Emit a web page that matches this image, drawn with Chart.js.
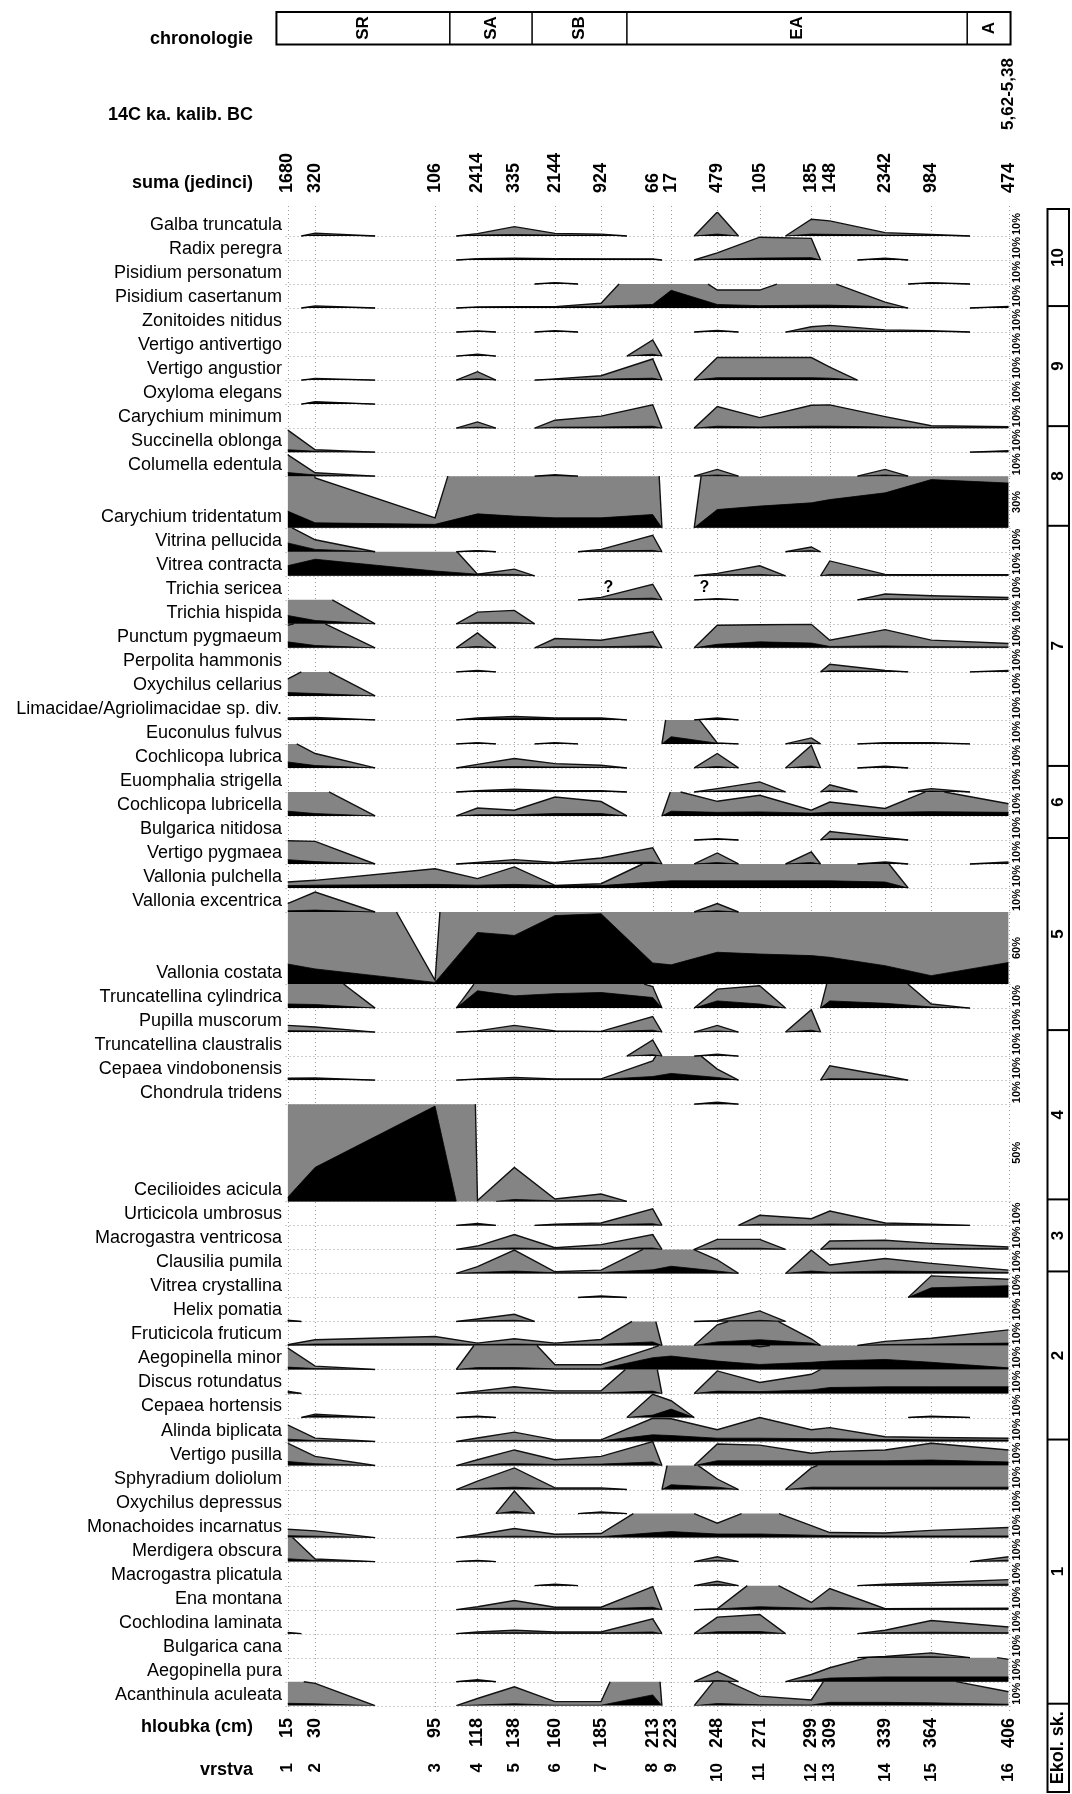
<!DOCTYPE html>
<html lang="cs">
<head>
<meta charset="utf-8">
<title>Malakozoologický diagram</title>
<script src="https://cdn.jsdelivr.net/npm/chart.js@4.4.1/dist/chart.umd.min.js"></script>
<style>
  html, body { margin: 0; padding: 0; background: #fff; }
  #wrap { position: relative; width: 1072px; height: 1794px; }
</style>
</head>
<body>
<div id="wrap"><canvas id="chart"></canvas></div>
<script>
// vzorky: hloubka (cm), vrstva, suma jedinců
const depths = [15, 30, 95, 118, 138, 160, 185, 213, 223, 248, 271, 299, 309, 339, 364, 406];
const layers = ['1', '2', '3', '4', '5', '6', '7', '8', '9', '10', '11', '12', '13', '14', '15', '16'];
const sums = [1680, 320, 106, 2414, 335, 2144, 924, 66, 17, 479, 105, 185, 148, 2342, 984, 474];

// chronologie (hranice v cm) a datování
const chronoLabels = ['SR', 'SA', 'SB', 'EA', 'A'];
const chronoLimits = [9, 103, 147.6, 199, 383.5, 407];
const c14Depths = [406];
const c14Labels = ['5,62-5,38'];

const species = [
  'Galba truncatula', 'Radix peregra', 'Pisidium personatum', 'Pisidium casertanum',
  'Zonitoides nitidus', 'Vertigo antivertigo', 'Vertigo angustior', 'Oxyloma elegans', 'Carychium minimum',
  'Succinella oblonga', 'Columella edentula', 'Carychium tridentatum',
  'Vitrina pellucida', 'Vitrea contracta', 'Trichia sericea', 'Trichia hispida', 'Punctum pygmaeum',
  'Perpolita hammonis', 'Oxychilus cellarius', 'Limacidae/Agriolimacidae sp. div.', 'Euconulus fulvus', 'Cochlicopa lubrica',
  'Euomphalia strigella', 'Cochlicopa lubricella', 'Bulgarica nitidosa',
  'Vertigo pygmaea', 'Vallonia pulchella', 'Vallonia excentrica', 'Vallonia costata', 'Truncatellina cylindrica', 'Pupilla muscorum',
  'Truncatellina claustralis', 'Cepaea vindobonensis', 'Chondrula tridens', 'Cecilioides acicula',
  'Urticicola umbrosus', 'Macrogastra ventricosa', 'Clausilia pumila',
  'Vitrea crystallina', 'Helix pomatia', 'Fruticicola fruticum', 'Aegopinella minor', 'Discus rotundatus', 'Cepaea hortensis', 'Alinda biplicata',
  'Vertigo pusilla', 'Sphyradium doliolum', 'Oxychilus depressus', 'Monachoides incarnatus', 'Merdigera obscura',
  'Macrogastra plicatula', 'Ena montana', 'Cochlodina laminata', 'Bulgarica cana', 'Aegopinella pura', 'Acanthinula aculeata'
];

// měřítko řádku (%), ostatní druhy 10 %
const wideScales = { 'Carychium tridentatum': 30, 'Vallonia costata': 60, 'Cecilioides acicula': 50 };

// ekologické skupiny shora dolů a počet druhů v nich
const ecoGroups = ['10', '9', '8', '7', '6', '5', '4', '3', '2', '1'];
const ecoGroupSizes = [4, 5, 3, 10, 3, 6, 4, 3, 7, 11];

// šedá plocha (zvětšený podíl, ořez na měřítko řádku)
const lightValues = [
  [0, 1.2, 0, 1, 3.9, 1.1, 0.8, 0, 0, 10, 0, 7, 6.3, 1.4, 0.6, 0],
  [0, 0, 0, 0.6, 0.8, 0.6, 0.5, 0.4, 0, 3, 9.5, 9, 0, 0.8, 0, 0],
  [0, 0, 0, 0, 0, 0.6, 0, 0, 0, 0, 0, 0, 0, 0, 0.6, 0],
  [0, 0.9, 0, 0.5, 0.6, 0.6, 2, 25, 20, 7.5, 7.5, 15, 11, 2.5, 0, 0.7],
  [0, 0, 0, 0.5, 0, 0.6, 0, 0, 0, 0.7, 0, 2.2, 2.8, 0.9, 0.6, 0],
  [0, 0, 0, 0.8, 0, 0, 0, 6.7, 0, 0, 0, 0, 0, 0, 0, 0],
  [0, 0.7, 0, 3.5, 0, 0.5, 1.8, 8.8, 0, 9.4, 9.4, 9.4, 5.4, 0, 0, 0],
  [0, 1, 0, 0, 0, 0, 0, 0, 0, 0, 0, 0, 0, 0, 0, 0],
  [0, 0, 0, 2.6, 0, 3.3, 5, 9.7, 0, 9, 4.4, 9.5, 9.7, 4.8, 1, 0.6],
  [9.3, 1, 0, 0, 0, 0, 0, 0, 0, 0, 0, 0, 0, 0, 0, 0.6],
  [9, 1.4, 0, 0, 0, 0.6, 0, 0, 0, 2.8, 0, 0, 0, 2.8, 0, 0],
  [100, 29, 5.8, 86, 100, 100, 100, 100, 0, 100, 100, 100, 100, 100, 100, 100],
  [11, 5, 0, 0.5, 0, 0, 1, 6.9, 0, 0, 0, 2, 0, 0, 0, 0],
  [42, 69, 20, 0.7, 2.8, 0, 0, 0, 0, 1, 4.2, 0, 6.2, 0.6, 0.5, 0.5],
  [0, 0, 0, 0, 0, 0, 1, 6.5, 0, 0.5, 0, 0, 0, 2.4, 1.7, 1],
  [35, 14, 0, 4.9, 5.6, 0, 0, 0, 0, 0, 0, 0, 0, 0, 0, 0],
  [9.4, 12, 0, 6.2, 0, 3.9, 3.2, 6.7, 0, 9.4, 9.6, 9.8, 3.2, 7.6, 3.2, 1.8],
  [0, 0, 0, 0.6, 0, 0, 0, 0, 0, 0, 0, 0, 3.2, 0.6, 0, 0.6],
  [7, 13, 0, 0, 0, 0, 0, 0, 0, 0, 0, 0, 0, 0, 0, 0],
  [0.8, 1, 0, 0.8, 1.4, 0.8, 0.8, 0, 0, 0.8, 0, 0, 0, 0, 0, 0],
  [0, 0, 0, 0.5, 0, 0.5, 0, 0, 25, 0.4, 0, 2.5, 0, 0.5, 0.5, 0],
  [12, 6, 0, 1.5, 3.9, 1.8, 1.1, 0, 0, 6, 0, 9.4, 0, 0.7, 0, 0],
  [0, 0, 0, 0.5, 1.1, 0.5, 0.5, 0, 0, 1.4, 4.2, 0, 3, 0, 1.4, 0],
  [10, 13, 0, 3.3, 2.4, 7.9, 6, 0, 11, 6.1, 8.6, 2.4, 5.8, 3.1, 11, 5.1],
  [0, 0, 0, 0, 0, 0, 0, 0, 0, 0.5, 0, 0, 3.5, 1, 0, 0],
  [9.7, 9.4, 0, 0.6, 1.8, 0.6, 2.5, 6.7, 0, 4.6, 0, 5, 0, 0.8, 0, 0.8],
  [2.5, 3.2, 8, 3.9, 8.8, 1.1, 1.8, 12, 12, 12, 12, 12, 12, 12, 0, 0],
  [3.5, 8.3, 0, 0, 0, 0, 0, 0, 0, 3.5, 0, 0, 0, 0, 0, 0],
  [180, 180, 3, 500, 180, 180, 180, 180, 180, 180, 180, 180, 180, 180, 180, 180],
  [19, 19, 0, 12, 15, 15, 15, 9, 0, 7.9, 9.3, 0, 15, 18, 1.7, 0],
  [2.8, 2.1, 0, 0.5, 2.8, 0.5, 0.3, 6.5, 0, 2.8, 0, 9.3, 0, 0, 0, 0],
  [0, 0, 0, 0, 0, 0, 0, 6.7, 0, 0.8, 0, 0, 0, 0, 0, 0],
  [0.8, 0.9, 0, 0.5, 1.1, 0.5, 0.5, 8, 20, 4.6, 0, 0, 6, 1.8, 0, 0],
  [0, 0, 0, 0, 0, 0, 0, 0, 0, 0.8, 0, 0, 0, 0, 0, 0],
  [60, 300, 1000, 0.5, 17.5, 1.2, 3.8, 0, 0, 0, 0, 0, 0, 0, 0, 0],
  [0, 0, 0, 0.8, 0, 0.5, 1, 6.9, 0, 0, 4.2, 2.8, 6, 1, 0.5, 0],
  [0, 0, 0, 1.4, 6.2, 0.7, 2, 6.2, 0, 4.2, 4.2, 0, 3.5, 3.8, 2.5, 1],
  [0, 0, 0, 2.8, 9.7, 0.7, 1.4, 12, 14, 5.7, 0, 9.7, 3.5, 6.2, 4.2, 1.4],
  [0, 0, 0, 0, 0, 0, 0.6, 0, 0, 0, 0, 0, 0, 0, 9, 7.6],
  [0.5, 0, 0, 1, 3, 0, 0, 0, 0, 0.3, 4.4, 0, 0, 0, 0, 0],
  [0.3, 2.4, 3.75, 1, 2.8, 1, 2.5, 15, 0, 8.6, 14, 2.8, 0, 1.7, 3, 6.5],
  [9, 1.4, 0, 12, 20, 2, 2, 9, 12, 12, 9.5, 12, 12, 12, 12, 12],
  [1, 0, 0, 1, 2.8, 1.1, 1.1, 20, 0, 9.4, 4.6, 8, 12, 12, 12, 12],
  [0, 1.4, 0, 0.6, 0, 0, 0, 9.7, 7, 0, 0, 0, 0, 0, 0.6, 0],
  [6.9, 1.4, 0, 1.5, 3.9, 0.7, 0.7, 9.7, 9.5, 4.9, 10, 4.9, 5.8, 2, 1.7, 1.4],
  [9.3, 3.8, 0, 2.4, 6.5, 2.4, 3.8, 10, 0, 9, 8.5, 5.1, 5.8, 6.5, 9.3, 6.5],
  [0, 0, 0, 3.5, 9, 0.7, 0.7, 0, 18, 4.4, 0, 9, 12, 12, 12, 12],
  [0, 0, 0, 0, 9.4, 0, 0.7, 0, 0, 0, 0, 0, 0, 0, 0, 0],
  [3.5, 2.8, 0, 1.2, 3.8, 1.4, 1.7, 15, 14, 6, 13, 5, 2.1, 1.9, 3, 4.2],
  [12, 1.1, 0, 0.5, 0, 0, 0, 0, 0, 2, 0, 0, 0, 0, 0, 2],
  [0, 0, 0, 0, 0, 0.6, 0, 0, 0, 1.8, 0, 0, 0, 0.6, 1.2, 2.5],
  [0, 0, 0, 1.2, 3.8, 1, 1, 9.6, 0, 0.3, 14, 3, 8.8, 0.4, 0.5, 0.6],
  [0.5, 0, 0, 0.7, 1.4, 0.7, 0.7, 6.2, 0, 6.9, 8, 0, 0, 1.4, 5.5, 2.8],
  [0, 0, 0, 0, 0, 0, 0, 0, 0, 0, 0, 0, 0, 0.5, 2, 0],
  [0, 0, 0, 0.8, 0, 0, 0, 0, 0, 4.2, 0, 3, 5.8, 12, 14, 9.3],
  [11, 9.3, 0, 3, 7.9, 1.7, 1.7, 49, 0, 12, 4, 2.4, 14, 14, 12, 5.8]
];

// černá plocha (skutečný podíl, %)
const darkValues = [
  [0, 0.5, 0, 0.4, 0.6, 0.4, 0.4, 0, 0, 0.8, 0, 0.8, 0.7, 0.4, 0.3, 0],
  [0, 0, 0, 0.4, 0.5, 0.4, 0.4, 0.3, 0, 0.4, 0.8, 1, 0, 0.5, 0, 0],
  [0, 0, 0, 0, 0, 0.4, 0, 0, 0, 0, 0, 0, 0, 0, 0.4, 0],
  [0, 0.5, 0, 0.3, 0.4, 0.4, 0.8, 1.5, 7.4, 1.5, 1, 1.2, 1.2, 0.6, 0, 0.5],
  [0, 0, 0, 0.3, 0, 0.4, 0, 0, 0, 0.4, 0, 0.5, 0.6, 0.4, 0.3, 0],
  [0, 0, 0, 0.5, 0, 0, 0, 0.8, 0, 0, 0, 0, 0, 0, 0, 0],
  [0, 0.4, 0, 0.6, 0, 0.3, 0.4, 0.8, 0, 1, 1, 1, 0.8, 0, 0, 0],
  [0, 0.8, 0, 0, 0, 0, 0, 0, 0, 0, 0, 0, 0, 0, 0, 0],
  [0, 0, 0, 0.4, 0, 0.4, 0.5, 0.8, 0, 0.8, 0.5, 0.8, 0.8, 0.5, 0.3, 0.3],
  [1, 0.4, 0, 0, 0, 0, 0, 0, 0, 0, 0, 0, 0, 0, 0, 0.4],
  [1.5, 0.5, 0, 0, 0, 0.3, 0, 0, 0, 0.5, 0, 0, 0, 0.5, 0, 0],
  [9.7, 2.9, 2, 8.1, 6.8, 5.8, 5.8, 7.7, 0, 10.6, 12.6, 14.5, 16.4, 20.3, 28, 26],
  [3.7, 1, 0, 0.4, 0, 0, 0.4, 0.6, 0, 0, 0, 0.5, 0, 0, 0, 0],
  [4.2, 6.9, 2, 0.7, 0.6, 0, 0, 0, 0, 0.4, 0.6, 0, 0.6, 0.4, 0.3, 0.3],
  [0, 0, 0, 0, 0, 0, 0.3, 0.7, 0, 0.3, 0, 0, 0, 0.4, 0.3, 0.3],
  [3.5, 1.4, 0, 0.6, 0.6, 0, 0, 0, 0, 0, 0, 0, 0, 0, 0, 0],
  [2.5, 1, 0, 0.6, 0, 0.5, 0.5, 0.8, 0, 1.5, 2.5, 2, 0.6, 0.8, 0.5, 0.4],
  [0, 0, 0, 0.3, 0, 0, 0, 0, 0, 0, 0, 0, 0.5, 0.3, 0, 0.3],
  [1.4, 1, 0, 0, 0, 0, 0, 0, 0, 0, 0, 0, 0, 0, 0, 0],
  [0.5, 0.6, 0, 0.5, 0.7, 0.5, 0.5, 0, 0, 0.5, 0, 0, 0, 0, 0, 0],
  [0, 0, 0, 0.3, 0, 0.3, 0, 0, 3, 0.3, 0, 0.5, 0, 0.3, 0.3, 0],
  [2.5, 1, 0, 0.4, 0.6, 0.4, 0.3, 0, 0, 0.6, 0, 0.8, 0, 0.3, 0, 0],
  [0, 0, 0, 0.3, 0.5, 0.3, 0.3, 0, 0, 0.4, 0.6, 0, 0.5, 0, 0.4, 0],
  [2, 1, 0, 0.5, 0.5, 1, 1, 0, 2, 1.5, 1.7, 1.2, 1.5, 1.5, 1.8, 1.5],
  [0, 0, 0, 0, 0, 0, 0, 0, 0, 0.3, 0, 0, 0.5, 0.4, 0, 0],
  [1.8, 1, 0, 0.3, 0.5, 0.3, 0.5, 0.8, 0, 0.6, 0, 0.6, 0, 0.4, 0, 0.4],
  [1, 1.2, 1.5, 1.2, 1.5, 1, 1, 2.5, 3, 3, 3, 3, 3, 2.5, 0, 0],
  [0.5, 0.8, 0, 0, 0, 0, 0, 0, 0, 0.5, 0, 0, 0, 0, 0, 0],
  [16.7, 12.6, 1.4, 43, 40.5, 57, 58.6, 17.6, 16, 26.5, 25, 23.7, 22.3, 15.3, 7, 18],
  [1.7, 1.5, 0, 7.2, 5.1, 6, 6.5, 4.4, 0, 3, 1.7, 0, 3, 2, 0.5, 0],
  [0.6, 0.5, 0, 0.3, 0.5, 0.3, 0.2, 0.8, 0, 0.5, 0, 0.8, 0, 0, 0, 0],
  [0, 0, 0, 0, 0, 0, 0, 0.6, 0, 0.4, 0, 0, 0, 0, 0, 0],
  [0.4, 0.5, 0, 0.3, 0.4, 0.3, 0.3, 1.5, 2.8, 1.1, 0, 0, 0.6, 0.4, 0, 0],
  [0, 0, 0, 0, 0, 0, 0, 0, 0, 0.6, 0, 0, 0, 0, 0, 0],
  [2, 17.5, 49, 0, 1, 0.3, 0.5, 0, 0, 0, 0, 0, 0, 0, 0, 0],
  [0, 0, 0, 0.5, 0, 0.3, 0.3, 0.7, 0, 0, 0.5, 0.4, 0.6, 0.3, 0.3, 0],
  [0, 0, 0, 0.3, 0.6, 0.3, 0.4, 0.6, 0, 0.5, 0.5, 0, 0.5, 0.5, 0.4, 0.3],
  [0, 0, 0, 0.4, 1, 0.3, 0.4, 1.5, 3, 1, 0, 1, 0.5, 1, 0.8, 0.4],
  [0, 0, 0, 0, 0, 0, 0.4, 0, 0, 0, 0, 0, 0, 0, 4, 4.9],
  [0.3, 0, 0, 0.3, 0.5, 0, 0, 0, 0, 0.2, 0.5, 0, 0, 0, 0, 0],
  [0.2, 0.6, 0.8, 0.4, 0.6, 0.4, 0.5, 1.5, 0, 1.5, 2.4, 1, 0, 0.4, 0.6, 1],
  [1, 0.4, 0, 0.8, 0.8, 0.3, 0.3, 4.9, 5.6, 3.5, 2.1, 3, 3.5, 4.2, 3, 0.7],
  [0.5, 0, 0, 0.3, 0.5, 0.3, 0.3, 1, 0, 1, 0.8, 1.5, 2.5, 2.8, 2.8, 2.8],
  [0, 0.8, 0, 0.4, 0, 0, 0, 1, 3.5, 0, 0, 0, 0, 0, 0.4, 0],
  [1, 0.4, 0, 0.3, 0.5, 0.3, 0.3, 2.8, 2.5, 1.4, 1.4, 1.2, 1.2, 0.8, 0.7, 0.6],
  [1.7, 0.8, 0, 0.5, 0.8, 0.5, 0.6, 1.5, 0, 2, 2, 2, 2, 2, 2.3, 1.5],
  [0, 0, 0, 0.5, 1, 0.3, 0.3, 0, 2, 1, 0, 1, 1, 1, 1, 1],
  [0, 0, 0, 0, 1, 0, 0.5, 0, 0, 0, 0, 0, 0, 0, 0, 0],
  [0.8, 0.6, 0, 0.4, 0.6, 0.4, 0.4, 2, 2.5, 1.5, 1.5, 1, 0.8, 0.7, 0.7, 0.7],
  [1.2, 0.5, 0, 0.4, 0, 0, 0, 0, 0, 0.5, 0, 0, 0, 0, 0, 0.6],
  [0, 0, 0, 0, 0, 0.4, 0, 0, 0, 0.5, 0, 0, 0, 0.3, 0.4, 0.6],
  [0, 0, 0, 0.4, 0.6, 0.4, 0.4, 1, 0, 0.3, 1.2, 0.6, 1, 0.3, 0.3, 0.3],
  [0.3, 0, 0, 0.3, 0.4, 0.3, 0.3, 0.7, 0, 0.8, 0.9, 0, 0, 0.4, 0.6, 0.4],
  [0, 0, 0, 0, 0, 0, 0, 0, 0, 0, 0, 0, 0, 0.3, 0.4, 0],
  [0, 0, 0, 0.5, 0, 0, 0, 0, 0, 0.5, 0, 0.6, 1.5, 2, 2, 2],
  [1, 0.8, 0, 0.3, 0.8, 0.2, 0.2, 4.5, 0, 0.9, 0.4, 0.3, 1.4, 1.4, 1.2, 0.6]
];

// otazníky u Trichia sericea (hloubka v cm)
const uncertainDepths = [189, 241];

const GRAY = '#848484';
const FONT = '"Liberation Sans", Arial, Helvetica, sans-serif';
const ROW_UNITS = { 10: 1, 30: 2.15, 50: 4.05, 60: 3 };

// řádky diagramu: základní linie v jednotkách osy y
let acc = 0;
const rows = species.map((name, i) => {
  const scale = wideScales[name] || 10;
  const h = ROW_UNITS[scale];
  acc += h;
  return { name, scale, h, base: acc, index: i };
});
const totalUnits = acc;

// nulové vzorky se zužují do poloviny vzdálenosti k sousednímu vzorku
function buildPoints(values, row, cap) {
  const raw = [];
  for (let k = 0; k < depths.length; k++) {
    const v = values[k];
    if (v > 0) {
      if (k > 0 && values[k - 1] === 0) raw.push({ x: (depths[k - 1] + depths[k]) / 2, v: 0 });
      raw.push({ x: depths[k], v });
      if (k < depths.length - 1 && values[k + 1] === 0) raw.push({ x: (depths[k] + depths[k + 1]) / 2, v: 0 });
    } else {
      raw.push({ x: depths[k], v: null });
    }
  }
  const out = [];
  raw.forEach((p, i) => {
    const q = raw[i - 1];
    if (cap && q && p.v !== null && q.v !== null && (q.v - cap) * (p.v - cap) < 0) {
      const t = (cap - q.v) / (p.v - q.v);
      out.push({ x: q.x + t * (p.x - q.x), v: cap });
    }
    out.push(p);
  });
  return out.map(p => ({
    x: p.x,
    y: p.v === null ? null : row.base - Math.min(p.v, cap || Infinity) / row.scale * row.h
  }));
}

// na každý druh: šedá výplň, její obrys (bez ořezané horní hrany) a černý podíl
const datasets = [];
rows.forEach((row, i) => {
  const capY = row.base - row.h;
  const light = buildPoints(lightValues[i], row, row.scale);
  datasets.push({
    label: row.name,
    data: light,
    order: 2,
    fill: { value: row.base },
    backgroundColor: GRAY,
    borderColor: 'rgba(0,0,0,0)',
    borderWidth: 0
  });
  datasets.push({
    label: row.name + ' (obrys)',
    data: light,
    order: 1,
    fill: false,
    borderColor: '#111',
    borderWidth: 1.4,
    segment: {
      borderColor: c => (Math.abs(c.p0.parsed.y - capY) < 1e-6 && Math.abs(c.p1.parsed.y - capY) < 1e-6) ? 'rgba(0,0,0,0)' : undefined
    }
  });
  datasets.push({
    label: row.name + ' (podíl)',
    data: buildPoints(darkValues[i], row, null),
    order: 0,
    fill: { value: row.base },
    backgroundColor: '#000',
    borderColor: '#000',
    borderWidth: 0.8
  });
});

function rotText(ctx, text, x, y, align) {
  ctx.save();
  ctx.translate(x, y);
  ctx.rotate(-Math.PI / 2);
  ctx.textAlign = align;
  ctx.textBaseline = 'middle';
  ctx.fillText(text, 0, 0);
  ctx.restore();
}

// tečkované mřížky pod plochami
const backdrop = {
  id: 'backdrop',
  beforeDatasetsDraw(chart) {
    const { ctx, chartArea, scales: { x, y } } = chart;
    ctx.save();
    ctx.strokeStyle = '#9c9c9c';
    ctx.lineWidth = 1;
    ctx.setLineDash([1, 3]);
    depths.forEach(d => {
      const px = Math.round(x.getPixelForValue(d)) + 0.5;
      ctx.beginPath();
      ctx.moveTo(px, chartArea.top - 6);
      ctx.lineTo(px, chartArea.bottom + 6);
      ctx.stroke();
    });
    rows.forEach(r => {
      const py = Math.round(y.getPixelForValue(r.base)) + 0.5;
      ctx.beginPath();
      ctx.moveTo(chartArea.left - 2, py);
      ctx.lineTo(chartArea.right + 2, py);
      ctx.stroke();
    });
    ctx.restore();
  }
};

// popisky, chronologie, ekologické skupiny
const annotations = {
  id: 'annotations',
  afterDraw(chart) {
    const { ctx, chartArea, scales: { x, y } } = chart;
    ctx.save();
    ctx.fillStyle = '#000';
    ctx.strokeStyle = '#000';

    ctx.font = 'bold 18px ' + FONT;
    ctx.textAlign = 'right';
    ctx.textBaseline = 'middle';
    ctx.fillText('chronologie', 253, 39);
    ctx.fillText('14C ka. kalib. BC', 253, 115);
    ctx.fillText('suma (jedinci)', 253, 183);
    ctx.fillText('hloubka (cm)', 253, 1727);
    ctx.fillText('vrstva', 253, 1770);

    // chronologický pruh
    const cx = chronoLimits.map(d => x.getPixelForValue(d));
    ctx.lineWidth = 2;
    ctx.strokeRect(cx[0], 12, cx[cx.length - 1] - cx[0], 32.5);
    ctx.lineWidth = 1.5;
    for (let i = 1; i < cx.length - 1; i++) {
      ctx.beginPath();
      ctx.moveTo(cx[i], 12);
      ctx.lineTo(cx[i], 44.5);
      ctx.stroke();
    }
    ctx.font = 'bold 17px ' + FONT;
    chronoLabels.forEach((lab, i) => rotText(ctx, lab, (cx[i] + cx[i + 1]) / 2, 28, 'center'));

    c14Labels.forEach((lab, i) => rotText(ctx, lab, x.getPixelForValue(c14Depths[i]), 94, 'center'));

    ctx.font = 'bold 18px ' + FONT;
    sums.forEach((s, i) => rotText(ctx, String(s), x.getPixelForValue(depths[i]), 193, 'left'));
    depths.forEach(d => rotText(ctx, String(d), x.getPixelForValue(d), 1718, 'right'));
    ctx.font = 'bold 17px ' + FONT;
    layers.forEach((l, i) => rotText(ctx, l, x.getPixelForValue(depths[i]), 1763, 'right'));

    // názvy druhů a měřítka
    ctx.font = '18px ' + FONT;
    ctx.textAlign = 'right';
    ctx.textBaseline = 'middle';
    rows.forEach(r => ctx.fillText(r.name, 282, y.getPixelForValue(r.base) - 11));

    ctx.font = 'bold 11px ' + FONT;
    rows.forEach(r => rotText(ctx, r.scale + '%', 1017, y.getPixelForValue(r.base - r.h / 2), 'center'));

    const sericea = rows[species.indexOf('Trichia sericea')];
    ctx.font = 'bold 16px ' + FONT;
    ctx.textAlign = 'center';
    uncertainDepths.forEach(d => ctx.fillText('?', x.getPixelForValue(d), y.getPixelForValue(sericea.base) - 12));

    // sloupec ekologických skupin
    const bx0 = 1047.5, bx1 = 1069;
    const boxTop = chartArea.top - 3;
    ctx.lineWidth = 2;
    ctx.strokeRect(bx0, boxTop, bx1 - bx0, 1792 - boxTop);
    let start = 0;
    let prevY = boxTop;
    ctx.font = 'bold 17px ' + FONT;
    ecoGroups.forEach((g, gi) => {
      const last = rows[start + ecoGroupSizes[gi] - 1];
      const gy = y.getPixelForValue(last.base) - 2;
      ctx.beginPath();
      ctx.moveTo(bx0, gy);
      ctx.lineTo(bx1, gy);
      ctx.stroke();
      rotText(ctx, g, (bx0 + bx1) / 2, (prevY + gy) / 2, 'center');
      prevY = gy;
      start += ecoGroupSizes[gi];
    });
    ctx.font = 'bold 18px ' + FONT;
    rotText(ctx, 'Ekol. sk.', (bx0 + bx1) / 2, (prevY + 1792) / 2, 'center');

    ctx.restore();
  }
};

new Chart(document.getElementById('chart').getContext('2d'), {
  type: 'line',
  data: { datasets },
  options: {
    responsive: true,
    maintainAspectRatio: false,
    animation: false,
    layout: { padding: { left: 287.5, right: 63.3, top: 212, bottom: 88.3 } },
    elements: { line: { tension: 0 }, point: { radius: 0 } },
    scales: {
      x: { type: 'linear', min: 15, max: 406, display: false },
      y: { type: 'linear', min: 0, max: totalUnits, reverse: true, display: false }
    },
    plugins: {
      legend: { display: false },
      tooltip: { enabled: false }
    }
  },
  plugins: [backdrop, annotations]
});
</script>
</body>
</html>
